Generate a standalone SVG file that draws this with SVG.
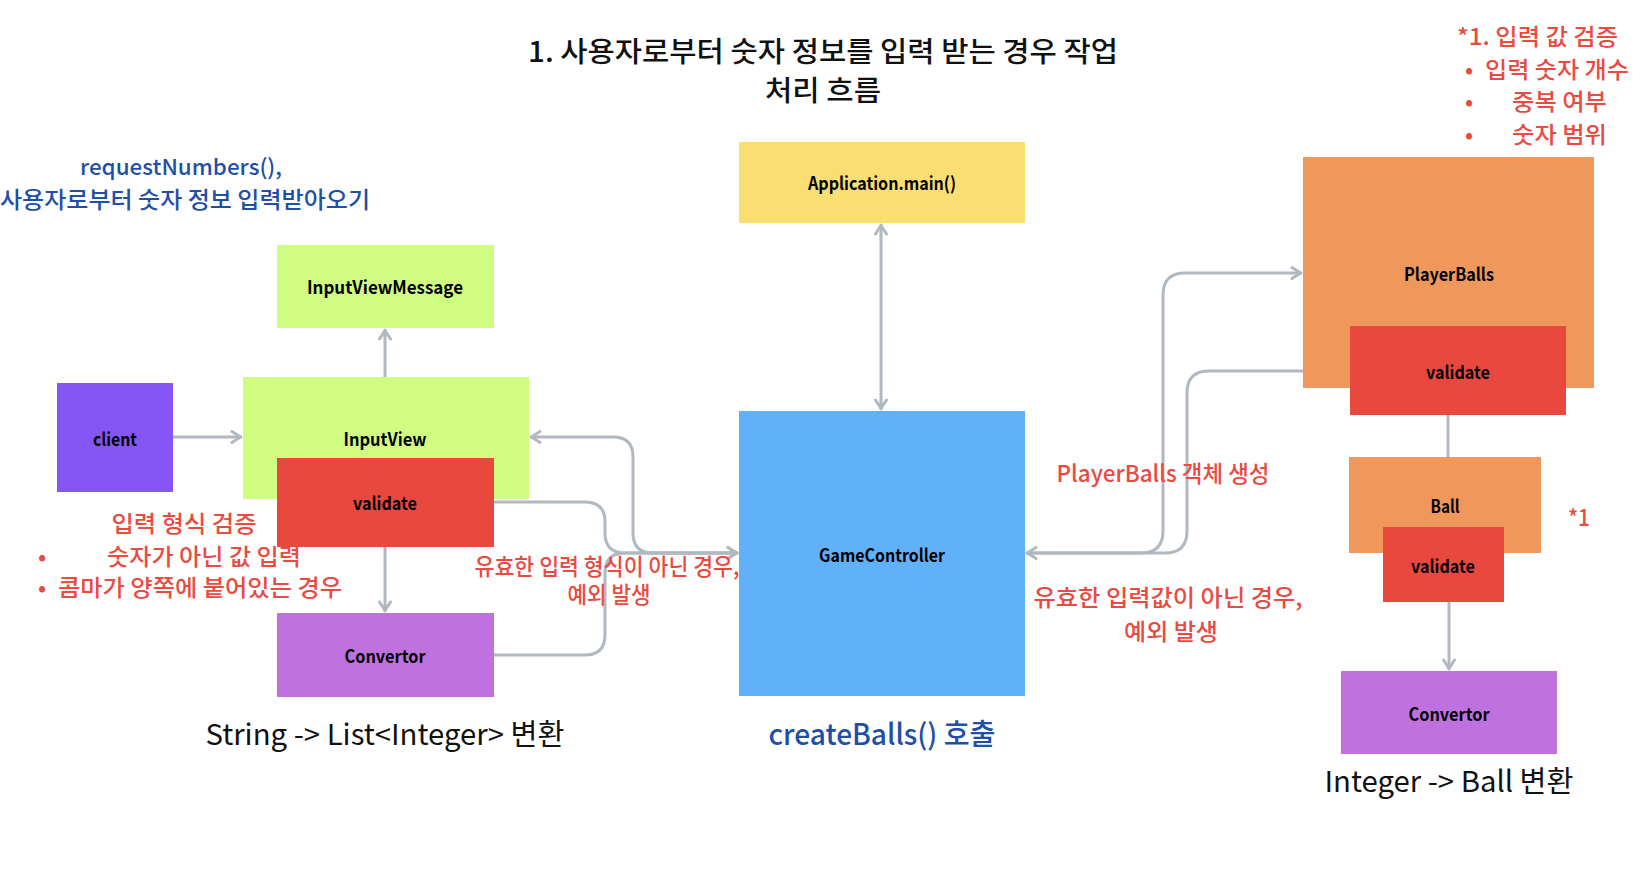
<svg xmlns="http://www.w3.org/2000/svg" width="1646" height="870" viewBox="0 0 1646 870">
<style>
text{font-family:"Noto Sans CJK KR","Noto Sans",sans-serif;}
.lbl{font-size:18px;font-weight:700;fill:#000;text-anchor:middle;}
.ttl{font-size:28px;font-weight:500;fill:#111;text-anchor:middle;}
.big{font-size:29px;fill:#111;text-anchor:middle;}
.blue{fill:#1F4FA6;font-weight:500;}
.red{fill:#EA4A3F;font-size:23px;font-weight:500;}
.mid{text-anchor:middle;}
.conn{fill:none;stroke:#B0B8C1;stroke-width:3;stroke-linecap:round;stroke-linejoin:round;}
</style>
<defs>
<marker id="ah" viewBox="0 0 12 14" refX="11" refY="7" markerWidth="12" markerHeight="14" markerUnits="userSpaceOnUse" orient="auto-start-reverse">
<path d="M2,1.5 L10.5,7 L2,12.5" fill="none" stroke="#B0B8C1" stroke-width="3" stroke-linecap="round" stroke-linejoin="round"/>
</marker>
</defs>
<rect width="1646" height="870" fill="#fff"/>

<g id="title">
<text class="ttl" x="823" y="62" textLength="590" lengthAdjust="spacingAndGlyphs">1. 사용자로부터 숫자 정보를 입력 받는 경우 작업</text>
<text class="ttl" x="823" y="101" textLength="116" lengthAdjust="spacingAndGlyphs">처리 흐름</text>
</g>

<g id="connectors">
<path class="conn" d="M173,437 H241" marker-end="url(#ah)"/>
<path class="conn" d="M385,377 V330" marker-end="url(#ah)"/>
<path class="conn" d="M385,547 V611" marker-end="url(#ah)"/>
<path class="conn" d="M737,553 H653 Q633,553 633,533 V457 Q633,437 613,437 H531" marker-end="url(#ah)"/>
<path class="conn" d="M494,502 H585 Q605,502 605,522 V533 Q605,553 625,553 H737" marker-end="url(#ah)"/>
<path class="conn" d="M494,655 H585 Q605,655 605,635 V573 Q605,553 625,553 H737" marker-end="url(#ah)"/>
<path class="conn" d="M881,225 V409" marker-start="url(#ah)" marker-end="url(#ah)"/>
<path class="conn" d="M1027,553 H1141 Q1163,553 1163,531 V295 Q1163,273 1185,273 H1301" marker-end="url(#ah)"/>
<path class="conn" d="M1350,371 H1209 Q1187,371 1187,393 V531 Q1187,553 1165,553 H1027" marker-end="url(#ah)"/>
<path class="conn" d="M1448,415 V457"/>
<path class="conn" d="M1449,602 V669" marker-end="url(#ah)"/>
</g>

<g id="client">
<rect x="57" y="383" width="116" height="109" fill="#8655F6"/>
<text class="lbl" x="115" y="446" textLength="44" lengthAdjust="spacingAndGlyphs">client</text>
</g>
<g id="inputViewMessage">
<rect x="277" y="245" width="217" height="83" fill="#D1FC82"/>
<text class="lbl" x="385" y="294" textLength="156" lengthAdjust="spacingAndGlyphs">InputViewMessage</text>
</g>
<g id="inputView">
<rect x="243" y="377" width="286" height="122" fill="#D1FC82"/>
<text class="lbl" x="385" y="446" textLength="83" lengthAdjust="spacingAndGlyphs">InputView</text>
</g>
<g id="inputValidate">
<rect x="277" y="458" width="217" height="89" fill="#E9483E"/>
<text class="lbl" x="385" y="510" textLength="64" lengthAdjust="spacingAndGlyphs">validate</text>
</g>
<g id="inputConvertor">
<rect x="277" y="613" width="217" height="84" fill="#BE71DF"/>
<text class="lbl" x="385" y="663" textLength="81" lengthAdjust="spacingAndGlyphs">Convertor</text>
</g>
<g id="applicationMain">
<rect x="739" y="142" width="286" height="81" fill="#F9DE71"/>
<text class="lbl" x="882" y="190" textLength="148" lengthAdjust="spacingAndGlyphs">Application.main()</text>
</g>
<g id="gameController">
<rect x="739" y="411" width="286" height="285" fill="#61B1F9"/>
<text class="lbl" x="882" y="562" textLength="126" lengthAdjust="spacingAndGlyphs">GameController</text>
</g>
<g id="playerBalls">
<rect x="1303" y="157" width="291" height="231" fill="#F0975B"/>
<text class="lbl" x="1449" y="281" textLength="90" lengthAdjust="spacingAndGlyphs">PlayerBalls</text>
</g>
<g id="playerBallsValidate">
<rect x="1350" y="326" width="216" height="89" fill="#E9483E"/>
<text class="lbl" x="1458" y="379" textLength="64" lengthAdjust="spacingAndGlyphs">validate</text>
</g>
<g id="ball">
<rect x="1349" y="457" width="192" height="96" fill="#F0975B"/>
<text class="lbl" x="1445" y="513" textLength="29" lengthAdjust="spacingAndGlyphs">Ball</text>
</g>
<g id="ballValidate">
<rect x="1383" y="527" width="121" height="75" fill="#E9483E"/>
<text class="lbl" x="1443" y="573" textLength="64" lengthAdjust="spacingAndGlyphs">validate</text>
</g>
<g id="ballConvertor">
<rect x="1341" y="671" width="216" height="83" fill="#BE71DF"/>
<text class="lbl" x="1449" y="721" textLength="81" lengthAdjust="spacingAndGlyphs">Convertor</text>
</g>

<g id="notes">
<text class="blue mid" x="181" y="175" font-size="22" textLength="202" lengthAdjust="spacingAndGlyphs">requestNumbers(),</text>
<text class="blue mid" x="185" y="208" font-size="23" textLength="370" lengthAdjust="spacingAndGlyphs">사용자로부터 숫자 정보 입력받아오기</text>

<text class="red mid" x="184" y="532" textLength="145" lengthAdjust="spacingAndGlyphs">입력 형식 검증</text>
<text class="red" y="565"><tspan x="38">•</tspan><tspan x="107" textLength="194" lengthAdjust="spacingAndGlyphs">숫자가 아닌 값 입력</tspan></text>
<text class="red" y="596"><tspan x="38">•</tspan><tspan x="58" textLength="284" lengthAdjust="spacingAndGlyphs">콤마가 양쪽에 붙어있는 경우</tspan></text>

<text class="red mid" x="607" y="575" font-size="20" textLength="265" lengthAdjust="spacingAndGlyphs">유효한 입력 형식이 아닌 경우,</text>
<text class="red mid" x="609" y="603" font-size="20" textLength="83" lengthAdjust="spacingAndGlyphs">예외 발생</text>

<text class="big" x="385" y="745" textLength="359" lengthAdjust="spacingAndGlyphs">String -&gt; List&lt;Integer&gt; 변환</text>
<text class="big blue" x="882" y="745" textLength="227" lengthAdjust="spacingAndGlyphs">createBalls() 호출</text>

<text class="red mid" x="1163" y="482" textLength="213" lengthAdjust="spacingAndGlyphs">PlayerBalls 객체 생성</text>
<text class="red mid" x="1168" y="606" textLength="269" lengthAdjust="spacingAndGlyphs">유효한 입력값이 아닌 경우,</text>
<text class="red mid" x="1171" y="640" textLength="94" lengthAdjust="spacingAndGlyphs">예외 발생</text>

<text class="big" x="1449" y="792" textLength="249" lengthAdjust="spacingAndGlyphs">Integer -&gt; Ball 변환</text>

<text class="red" x="1568" y="526" textLength="22" lengthAdjust="spacingAndGlyphs">*1</text>
<text class="red" x="1457" y="45" textLength="161" lengthAdjust="spacingAndGlyphs">*1. 입력 값 검증</text>
<text class="red" y="78"><tspan x="1465">•</tspan><tspan x="1485" textLength="144" lengthAdjust="spacingAndGlyphs">입력 숫자 개수</tspan></text>
<text class="red" y="110"><tspan x="1465">•</tspan><tspan x="1512" textLength="95" lengthAdjust="spacingAndGlyphs">중복 여부</tspan></text>
<text class="red" y="143"><tspan x="1465">•</tspan><tspan x="1512" textLength="95" lengthAdjust="spacingAndGlyphs">숫자 범위</tspan></text>
</g>
</svg>
